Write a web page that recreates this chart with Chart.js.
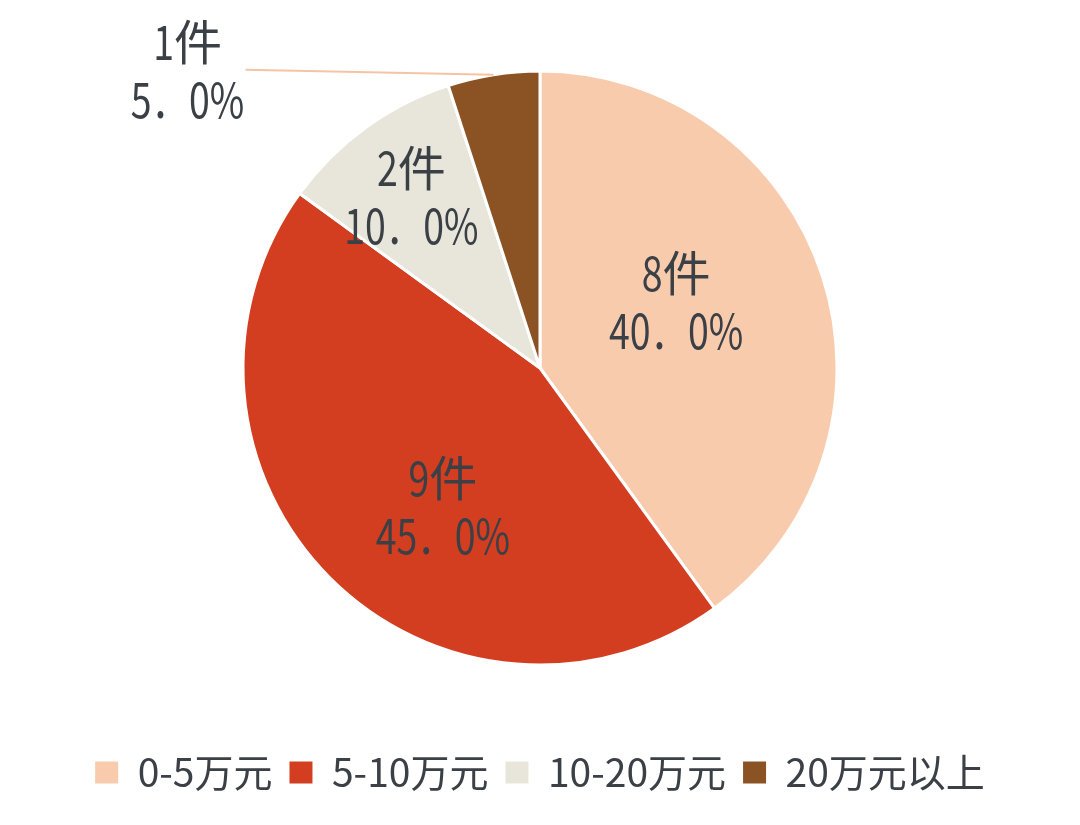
<!DOCTYPE html>
<html>
<head>
<meta charset="utf-8">
<script src="https://cdn.jsdelivr.net/npm/chart.js@4.4.1/dist/chart.umd.min.js"></script>
<style>
html,body{margin:0;padding:0;background:#fff}
#wrap{width:1080px;height:825px;position:relative}
</style>
</head>
<body>
<div id="wrap"><canvas id="pie"></canvas></div>
<script>
// values
const categories = ["0-5万元", "5-10万元", "10-20万元", "20万元以上"]
const counts = [8, 9, 2, 1]
const percents = ["40．0%", "45．0%", "10．0%", "5．0%"]
const colors = ["#F8CBAD", "#D33E21", "#E8E6DA", "#8B5223"]

const FONT = '"Noto Sans CJK SC", sans-serif'
const TEXT = "#3A4045"
const NARROW = 0.78   // latin glyphs in the source look condensed

/* ---------------- TEXT HELPER ---------------- */

// draw a string centred on cx,cy; latin runs squeezed horizontally
function drawMixed(ctx, str, cx, cy){
const runs = str.match(/[\x00-\x7F．]+|[^\x00-\x7F．]+/g)
const widths = runs.map(r => {
const w = ctx.measureText(r).width
return /[\x00-\x7F．]/.test(r) ? w * NARROW : w
})
let x = cx - widths.reduce((a, b) => a + b, 0) / 2
runs.forEach((r, i) => {
ctx.save()
ctx.translate(x, cy)
if(/[\x00-\x7F．]/.test(r)) ctx.scale(NARROW, 1)
ctx.fillText(r, 0, 0)
ctx.restore()
x += widths[i]
})
}

/* ---------------- LABELS ---------------- */

// inside labels: [fraction of radius, angle shift in degrees]
const inside = [[0.51, -8], [0.57, -10], [0.72, -1]]

const pieLabels = {
id: "pieLabels",
afterDatasetsDraw(chart){
const ctx = chart.ctx
const arcs = chart.getDatasetMeta(0).data
ctx.save()
ctx.font = "48px " + FONT
ctx.fillStyle = TEXT
ctx.textAlign = "left"
ctx.textBaseline = "middle"

arcs.forEach((arc, i) => {
const p = arc.getProps(["x", "y", "startAngle", "endAngle", "outerRadius"], true)
const mid = (p.startAngle + p.endAngle) / 2

if(i < 3){
const a = mid + inside[i][1] * Math.PI / 180
const d = p.outerRadius * inside[i][0]
const cx = p.x + Math.cos(a) * d
const cy = p.y + Math.sin(a) * d
drawMixed(ctx, counts[i] + "件", cx, cy - 29)
drawMixed(ctx, percents[i], cx, cy + 29)
} else {
// small slice: label outside with leader line
const ax = p.x + Math.cos(mid) * p.outerRadius
const ay = p.y + Math.sin(mid) * p.outerRadius
const ex = ax - 248
const ey = ay - 5
ctx.strokeStyle = "#F6C3A5"
ctx.lineWidth = 2
ctx.beginPath()
ctx.moveTo(ax, ay)
ctx.lineTo(ex, ey)
ctx.stroke()
const lx = ex - 58
const ly = ey + 1
drawMixed(ctx, counts[i] + "件", lx, ly - 29)
drawMixed(ctx, percents[i], lx, ly + 29)
}
})
ctx.restore()
}
}

/* ---------------- CHART ---------------- */

new Chart(document.getElementById("pie"), {
type: "pie",
data: {
labels: categories,
datasets: [{
data: counts,
backgroundColor: colors,
borderColor: "#ffffff",
borderWidth: 3,
radius: 297
}]
},
options: {
responsive: true,
maintainAspectRatio: false,
animation: false,
layout: { padding: { top: 0, bottom: 23 } },
plugins: {
tooltip: { enabled: false },
legend: {
position: "bottom",
labels: {
boxWidth: 23,
boxHeight: 22,
padding: 17,
color: TEXT,
font: { family: FONT, size: 39 },
generateLabels: (chart) => categories.map((c, i) => ({
text: c,
fillStyle: colors[i],
strokeStyle: colors[i],
lineWidth: 0,
fontColor: TEXT,
index: i
}))
}
}
}
},
plugins: [pieLabels]
})
</script>
</body>
</html>
